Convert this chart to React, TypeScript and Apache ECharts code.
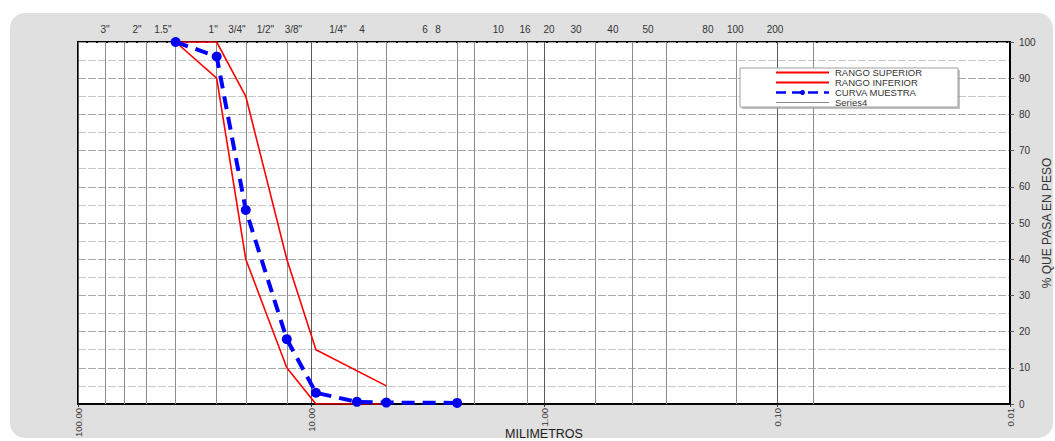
import React, { useEffect, useRef } from "react";
import * as echarts from "echarts";

// Sieve sizes (mm) of the sample points
const SAMPLE_SIZES_MM = [38.1, 25.4, 19.05, 12.7, 9.525, 6.35, 4.75, 2.36];
const SAMPLE_PASSING = [100, 96, 53.6, 17.9, 3.1, 0.6, 0.4, 0.3];

// Specification band
const RANGE_SIZES_MM = [38.1, 25.4, 19.05, 12.7, 9.525, 4.75];
const UPPER_PASSING = [100, 100, 85, 40, 15, 5];
const LOWER_PASSING = [100, 90, 40, 10, 0, 0];

// Vertical sieve gridlines (mm)
const SIEVE_GRID_MM = [76.2, 63.5, 50.8, 38.1, 25.4, 19.05, 12.7, 6.35, 4.75, 2.36, 2.0, 1.18, 0.6, 0.425, 0.3, 0.15, 0.075];

// Top sieve labels and where they sit along the size axis (mm)
const TOP_LABELS = ['3"', '2"', '1.5"', '1"', '3/4"', '1/2"', '3/8"', '1/4"', "4", "6", "8", "10", "16", "20", "30", "40", "50", "80", "100", "200"];
const TOP_LABEL_AT_MM = [76.5, 55.8, 43.2, 26.3, 20.8, 15.7, 11.9, 7.66, 6.04, 3.24, 2.85, 1.57, 1.206, 0.952, 0.729, 0.506, 0.358, 0.198, 0.151, 0.102];

const SERIES_NAMES = ["RANGO SUPERIOR", "RANGO INFERIOR", "CURVA MUESTRA", "Series4"];

const FONT = "Liberation Sans, Arial, sans-serif";

export default function App() {
  const ref = useRef<HTMLDivElement>(null);

  useEffect(() => {
    if (!ref.current) return;
    const chart = echarts.init(ref.current, undefined, { renderer: "svg" });

    const zip = (xs: number[], ys: number[]) => xs.map((x, i) => [x, ys[i]]);

    const bgRect = {
      type: "rect",
      z: -100,
      silent: true,
      shape: { x: 10, y: 13, width: 1043, height: 425, r: 15 },
      style: { fill: "#e0e0e0" },
    };

    const series = [
      {
        name: SERIES_NAMES[0],
        type: "line",
        data: zip(RANGE_SIZES_MM, UPPER_PASSING),
        symbol: "none",
        lineStyle: { color: "#ff0000", width: 1.6 },
        itemStyle: { color: "#ff0000" },
        z: 3,
        markLine: {
          silent: true,
          symbol: "none",
          label: { show: false },
          lineStyle: { color: "#8c8c8c", width: 1, type: "solid" },
          data: SIEVE_GRID_MM.map((v) => ({ xAxis: v })),
          z: 1,
        },
      },
      {
        name: SERIES_NAMES[1],
        type: "line",
        data: zip(RANGE_SIZES_MM, LOWER_PASSING),
        symbol: "none",
        lineStyle: { color: "#ff0000", width: 1.6 },
        itemStyle: { color: "#ff0000" },
        z: 3,
      },
      {
        name: SERIES_NAMES[2],
        type: "line",
        data: zip(SAMPLE_SIZES_MM, SAMPLE_PASSING),
        symbol: "circle",
        symbolSize: 10,
        showSymbol: true,
        lineStyle: { color: "#0000ff", width: 4, type: [13, 8] },
        itemStyle: { color: "#0000ee" },
        z: 4,
      },
      {
        name: SERIES_NAMES[3],
        type: "line",
        data: [],
        symbol: "none",
        lineStyle: { color: "#888888", width: 1 },
        itemStyle: { color: "#888888" },
      },
    ];

    // Custom legend box (Excel style)
    const LG = { x: 740, y: 68, w: 218, h: 39, row: 10, lineX0: 776, lineX1: 829, textX: 835 };
    const legendElems: any[] = [
      {
        type: "rect",
        silent: true,
        z: 50,
        shape: { x: LG.x + 2, y: LG.y + 2, width: LG.w, height: LG.h },
        style: { fill: "#9a9a9a", opacity: 0.6 },
      },
      {
        type: "rect",
        silent: true,
        z: 51,
        shape: { x: LG.x, y: LG.y, width: LG.w, height: LG.h },
        style: { fill: "#ffffff", stroke: "#a0a0a0", lineWidth: 1 },
      },
    ];
    SERIES_NAMES.forEach((name, i) => {
      const cy = LG.y + 4 + i * LG.row + 0.5;
      const s: any = series[i];
      legendElems.push({
        type: "line",
        silent: true,
        z: 52,
        shape: { x1: LG.lineX0, y1: cy, x2: LG.lineX1, y2: cy },
        style: {
          stroke: s.lineStyle.color,
          lineWidth: i < 2 ? 2.2 : i === 2 ? 2.6 : 1,
          lineDash: i === 2 ? [10, 6] : null,
        },
      });
      if (i === 2) {
        legendElems.push({
          type: "circle",
          silent: true,
          z: 53,
          shape: { cx: (LG.lineX0 + LG.lineX1) / 2, cy, r: 2.5 },
          style: { fill: "#0000ee" },
        });
      }
      legendElems.push({
        type: "text",
        silent: true,
        z: 53,
        x: LG.textX,
        y: cy,
        style: {
          text: name,
          fontSize: 9.5,
          fill: "#333",
          fontFamily: FONT,
          align: "left",
          verticalAlign: "middle",
        },
      });
    });

    chart.setOption({
      animation: false,
      backgroundColor: "#ffffff",
      textStyle: { fontFamily: FONT },
      graphic: { elements: [bgRect] },
      grid: {
        left: 78,
        top: 42,
        width: 932,
        height: 362,
        show: true,
        backgroundColor: "#ffffff",
        borderColor: "#000000",
        borderWidth: 2,
        containLabel: false,
        outerBoundsMode: "none",
      },
      legend: { show: false, data: SERIES_NAMES },
      xAxis: {
        type: "log",
        logBase: 10,
        min: 0.01,
        max: 100,
        inverse: true,
        position: "bottom",
        name: "MILIMETROS",
        nameLocation: "middle",
        nameGap: 23,
        nameMoveOverlap: false,
        nameTextStyle: { fontSize: 12.5, color: "#222", fontFamily: FONT },
        axisLine: { show: true, lineStyle: { color: "#000", width: 2 } },
        axisTick: { show: true, length: 3, lineStyle: { color: "#333" } },
        axisLabel: {
          rotate: 90,
          fontSize: 9.5,
          color: "#333",
          margin: 4,
          formatter: (v: number) => Number(v).toFixed(2),
        },
        splitLine: { show: true, lineStyle: { color: "#5a5a5a", width: 1 } },
      },
      yAxis: {
        type: "value",
        position: "right",
        min: 0,
        max: 100,
        interval: 10,
        name: "% QUE PASA EN PESO",
        nameLocation: "middle",
        nameRotate: 90,
        nameGap: 31,
        nameMoveOverlap: false,
        nameTextStyle: { fontSize: 12, color: "#333", fontFamily: FONT },
        axisLine: { show: true, lineStyle: { color: "#000", width: 2 } },
        axisTick: { show: true, length: 4, lineStyle: { color: "#555" } },
        axisLabel: { fontSize: 10, color: "#333", margin: 9 },
        splitLine: { show: true, lineStyle: { color: "#a8a8a8", width: 1, type: [8, 2] } },
        minorTick: { show: false, splitNumber: 2 },
        minorSplitLine: { show: true, lineStyle: { color: "#c8c8c8", width: 1, type: [8, 2] } },
      },
      series,
    });

    const labels = TOP_LABELS.map((txt, i) => {
      const px = chart.convertToPixel({ xAxisIndex: 0 }, TOP_LABEL_AT_MM[i]) as number;
      return {
        type: "text",
        silent: true,
        x: px,
        y: 29,
        style: {
          text: txt,
          fontSize: 10,
          fill: "#333",
          fontFamily: FONT,
          align: "center",
          verticalAlign: "middle",
        },
      };
    });

    chart.setOption({ graphic: { elements: [bgRect, ...labels, ...legendElems] } });

    return () => chart.dispose();
  }, []);

  return (
    <div
      ref={ref}
      style={{ position: "fixed", left: 0, top: 0, width: 1055, height: 441 }}
    />
  );
}
